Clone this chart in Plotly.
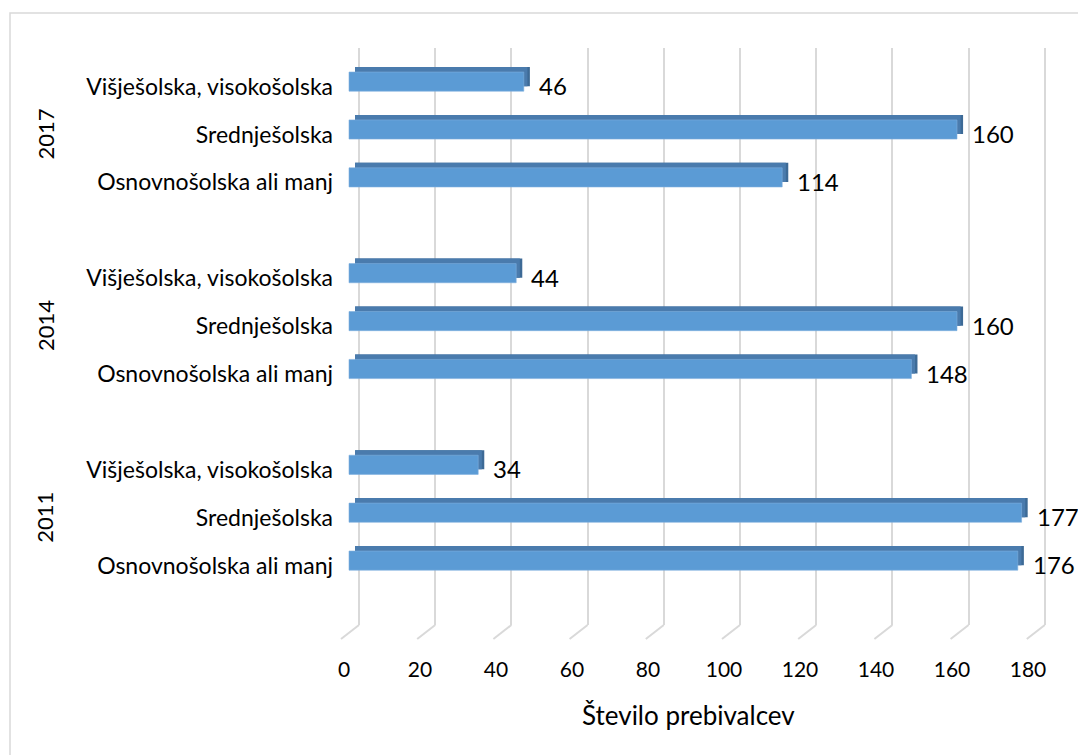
import plotly.graph_objects as go

years = ["2011", "2014", "2017"]
categories = ["Osnovnošolska ali manj", "Srednješolska", "Višješolska, visokošolska"]
values_2011 = [176, 177, 34]
values_2014 = [148, 160, 44]
values_2017 = [114, 160, 46]
x_ticks = [0, 20, 40, 60, 80, 100, 120, 140, 160, 180]
axis_title = "Število prebivalcev"

series = [values_2011, values_2014, values_2017]

pos, vals, labels = [], [], []
year_pos = []
for gi, (yr, vs) in enumerate(zip(years, series)):
    base = gi * 4
    for ci, (c, v) in enumerate(zip(categories, vs)):
        pos.append(base + ci)
        vals.append(v)
        labels.append(c)
    year_pos.append(base + 1)

FRONT = "#5B9BD5"
TOP = "#4A7BAD"
SIDE = "#3D6A96"
W = 0.40
UP = 0.105
DX = 1.6

OFF = 8  # page body margin
FIG_W, FIG_H = 1086 - OFF, 755 - OFF
L, R, T, B = 340 - OFF, 1050 - OFF, 48 - OFF, 625 - OFF
ZERO_F = 349 - OFF
ZERO_B = 359 - OFF
ROW0 = 560.6 - OFF
ROWPX = 47.9
PXU = 3.8
BPX = 3.81
x_front_range = [(L - ZERO_F) / PXU, (R - ZERO_F) / PXU]
x_back_range = [(L - ZERO_B) / BPX, (R - ZERO_B) / BPX]

fig = go.Figure()
fig.add_trace(go.Scatter(x=[0], y=[0], xaxis="x2", mode="markers", marker=dict(opacity=0),
                         hoverinfo="skip", showlegend=False))
fig.add_trace(go.Bar(y=pos, x=vals, base=[DX] * len(vals), orientation="h",
                     width=W, offset=-W / 2 + UP, marker=dict(color=SIDE, line=dict(width=0)),
                     hoverinfo="skip", showlegend=False))
fig.add_trace(go.Bar(y=pos, x=[v - DX * 0.4 for v in vals], base=[DX] * len(vals), orientation="h",
                     width=W, offset=-W / 2 + UP, marker=dict(color=TOP, line=dict(width=0)),
                     hoverinfo="skip", showlegend=False))
fig.add_trace(go.Bar(y=pos, x=vals, orientation="h", width=W, offset=-W / 2,
                     marker=dict(color=FRONT, line=dict(width=0.6, color="#7FAEDD")),
                     showlegend=False))

ann = []
for p, v in zip(pos, vals):
    ann.append(dict(x=v, y=p, xref="x", yref="y", text=str(v), showarrow=False,
                    xanchor="left", xshift=13, yshift=-4,
                    font=dict(family="Lato", size=24, color="#000000")))
for yp, yr in zip(year_pos, years):
    ann.append(dict(x=(45 - OFF - L) / (R - L), y=yp, xref="paper", yref="y", text=yr,
                    showarrow=False, textangle=-90, yshift=-5, xanchor="center", yanchor="middle",
                    font=dict(family="Lato", size=22, color="#000000")))
ann.append(dict(x=(688 - OFF - L) / (R - L), y=(B - (715 - OFF)) / (B - T), xref="paper", yref="paper",
                text=axis_title, showarrow=False, xanchor="center", yanchor="middle",
                font=dict(family="Lato", size=26, color="#000000")))

shapes = []
shapes.append(dict(type="rect", xref="paper", yref="paper",
                   x0=(10 - OFF - L) / (R - L), x1=(1100 - L) / (R - L),
                   y0=(B - 770) / (B - T), y1=(B - (13 - OFF)) / (B - T),
                   line=dict(color="#D9D9D9", width=1.5), fillcolor="rgba(0,0,0,0)", layer="below"))
for t in x_ticks:
    shapes.append(dict(type="line", xref="x2", yref="paper", x0=t, x1=t - 18 / BPX,
                       y0=0, y1=-14 / (B - T), line=dict(color="#D9D9D9", width=2)))

fig.update_layout(
    width=FIG_W, height=FIG_H,
    margin=dict(l=L, r=FIG_W - R, t=T, b=FIG_H - B, autoexpand=False),
    paper_bgcolor="white", plot_bgcolor="rgba(0,0,0,0)",
    barmode="overlay",
    annotations=ann, shapes=shapes,
    font=dict(family="Lato", color="#000000"),
    xaxis=dict(range=x_front_range, tickvals=x_ticks, showgrid=False, zeroline=False,
               showline=False, ticks="", ticklabelstandoff=30, ticklabelshift=-5,
               tickfont=dict(family="Lato", size=21, color="#000000")),
    xaxis2=dict(range=x_back_range, overlaying="x", tickvals=x_ticks, showgrid=True,
                gridcolor="#D9D9D9", gridwidth=2, showticklabels=False, zeroline=False,
                showline=False, ticks="", layer="below traces"),
    yaxis=dict(range=[(ROW0 - B) / ROWPX, (ROW0 - T) / ROWPX], tickvals=pos, ticktext=labels,
               showgrid=False, zeroline=False, showline=False, ticks="",
               ticklabelstandoff=6, ticklabelshift=5,
               tickfont=dict(family="Lato", size=23, color="#000000")),
)

fig.write_html("out.html")
